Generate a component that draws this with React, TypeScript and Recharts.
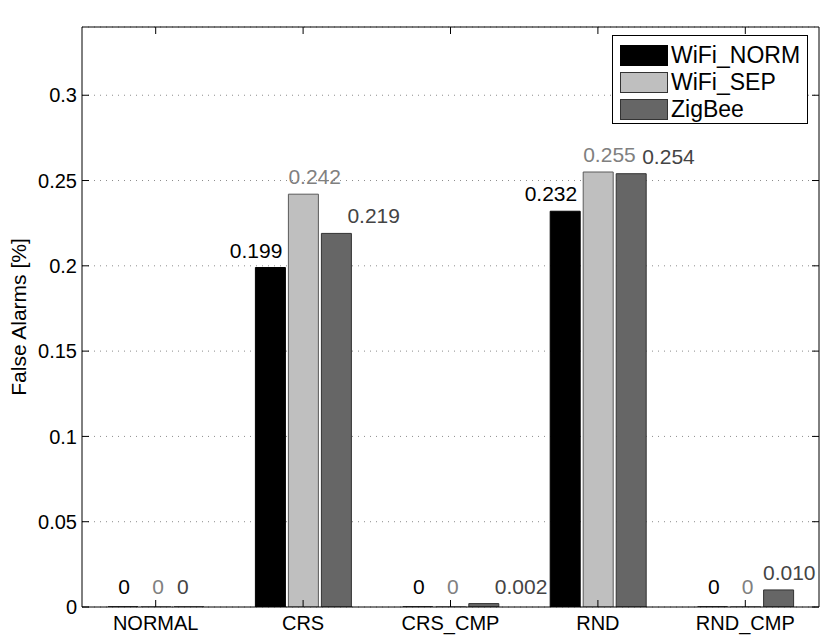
import React from 'react';
import { BarChart, Bar, XAxis, YAxis, CartesianGrid, Legend, LabelList } from 'recharts';

const categories = ['NORMAL', 'CRS', 'CRS_CMP', 'RND', 'RND_CMP'];
const wifiNorm = [0, 0.199, 0, 0.232, 0];
const wifiSep = [0, 0.242, 0, 0.255, 0];
const zigBee = [0, 0.219, 0.002, 0.254, 0.01];
const yTicks = [0, 0.05, 0.1, 0.15, 0.2, 0.25, 0.3];

const data = categories.map((name, i) => ({
  name,
  wifiNorm: wifiNorm[i],
  wifiSep: wifiSep[i],
  zigBee: zigBee[i],
}));

const series = [
  { key: 'wifiNorm', name: 'WiFi_NORM', fill: '#000000', stroke: '#000000' },
  { key: 'wifiSep', name: 'WiFi_SEP', fill: '#bfbfbf', stroke: '#5a5a5a' },
  { key: 'zigBee', name: 'ZigBee', fill: '#666666', stroke: '#333333' },
];

const FONT = '"Liberation Sans", Arial, Helvetica, sans-serif';
const PLOT_RIGHT = 818;

const fmt = (v: number) => (v === 0 ? '0' : v.toFixed(3));

// zero bars still need an entry so their "0" label gets drawn
const zeroKeep = (value: any) => (Number(value) === 0 ? 0.01 : 0);

type Place = { x: number; anchor: 'start' | 'middle' | 'end' };

// value labels sit a little above each bar, shifted the way the original was
const makeLabel = (color: string, place: (x: number, w: number, zero: boolean) => Place) =>
  (props: any) => {
    const { x, y, width, value } = props;
    if (x == null || y == null) return null;
    const v = Number(value);
    const zero = v === 0;
    const p = place(Number(x), Number(width), zero);
    return (
      <text
        x={p.x}
        y={Number(y) - (zero ? 13 : 10)}
        textAnchor={p.anchor}
        fill={color}
        fontSize={21}
        fontFamily={FONT}
      >
        {fmt(v)}
      </text>
    );
  };

const labelNorm = makeLabel('#000000', (x, w, zero) => ({ x: x + w - (zero ? 8 : 3), anchor: 'end' }));
const labelSep = makeLabel('#808080', (x, w, zero) =>
  zero ? { x: x + w / 2 + 2, anchor: 'middle' } : { x: x, anchor: 'start' }
);
const labelZig = makeLabel('#444444', (x, w, zero) =>
  zero ? { x: x + 3, anchor: 'start' } : { x: Math.min(x + w - 4, PLOT_RIGHT - 55), anchor: 'start' }
);

const LegendBox = () => (
  <div
    style={{
      border: '1px solid #000',
      background: '#fff',
      width: 196,
      height: 89,
      boxSizing: 'border-box',
      paddingTop: 6,
      paddingLeft: 7,
      fontFamily: FONT,
      fontSize: 23,
    }}
  >
    {series.map((s) => (
      <div key={s.key} style={{ display: 'flex', alignItems: 'center', height: 27 }}>
        <div
          style={{
            width: 48,
            height: 21,
            background: s.fill,
            border: `1px solid ${s.key === 'wifiNorm' ? '#000' : '#333'}`,
            boxSizing: 'border-box',
            marginRight: 3,
            flexShrink: 0,
          }}
        />
        <span style={{ color: '#000', lineHeight: '21px', whiteSpace: 'nowrap' }}>{s.name}</span>
      </div>
    ))}
  </div>
);

const noTick = () => <g />;

const YLabel = (props: any) => {
  const vb = props.viewBox || {};
  const cx = 18;
  const cy = Number(vb.y) + Number(vb.height) / 2;
  return (
    <text
      x={cx}
      y={cy}
      transform={`rotate(-90, ${cx}, ${cy})`}
      textAnchor="middle"
      dominantBaseline="central"
      fontSize={21}
      fontFamily={FONT}
      fill="#000"
    >
      False Alarms [%]
    </text>
  );
};

const App = () => {
  return (
    <div style={{ position: 'absolute', left: 0, top: 0, fontFamily: FONT }}>
      <BarChart
        width={830}
        height={636}
        data={data}
        margin={{ top: 26, right: 10, bottom: 0, left: 0 }}
        barSize={30}
        barGap={3}
      >
        <CartesianGrid vertical={false} stroke="#8c8c8c" strokeDasharray="1 5" />
        <XAxis
          dataKey="name"
          height={29}
          axisLine={{ stroke: '#000' }}
          tickLine={{ stroke: '#000' }}
          tickSize={-7}
          tickMargin={16}
          tick={{ fill: '#000', fontSize: 20, fontFamily: FONT }}
          interval={0}
        />
        <XAxis
          xAxisId="top"
          dataKey="name"
          orientation="top"
          height={1}
          axisLine={{ stroke: '#000' }}
          tickLine={{ stroke: '#000' }}
          tickSize={-7}
          tick={noTick}
          interval={0}
        />
        <YAxis
          width={82}
          domain={[0, 0.34]}
          ticks={yTicks}
          allowDataOverflow
          axisLine={{ stroke: '#000' }}
          tickLine={{ stroke: '#000' }}
          tickSize={-7}
          tickMargin={12}
          tick={{ fill: '#000', fontSize: 20, fontFamily: FONT }}
          tickFormatter={(v: number) => String(v)}
          label={<YLabel />}
        />
        <YAxis
          yAxisId="right"
          orientation="right"
          width={1}
          domain={[0, 0.34]}
          ticks={yTicks}
          allowDataOverflow
          axisLine={{ stroke: '#000' }}
          tickLine={{ stroke: '#000' }}
          tickSize={-7}
          tick={noTick}
        />
        <Legend
          layout="vertical"
          align="center"
          verticalAlign="middle"
          wrapperStyle={{ top: 35, left: 612, width: 196 }}
          content={() => <LegendBox />}
        />
        <Bar dataKey="wifiNorm" name="WiFi_NORM" fill="#000000" stroke="#000000" minPointSize={zeroKeep} isAnimationActive={false}>
          <LabelList dataKey="wifiNorm" content={labelNorm} />
        </Bar>
        <Bar dataKey="wifiSep" name="WiFi_SEP" fill="#bfbfbf" stroke="#5a5a5a" minPointSize={zeroKeep} isAnimationActive={false}>
          <LabelList dataKey="wifiSep" content={labelSep} />
        </Bar>
        <Bar dataKey="zigBee" name="ZigBee" fill="#666666" stroke="#333333" minPointSize={zeroKeep} isAnimationActive={false}>
          <LabelList dataKey="zigBee" content={labelZig} />
        </Bar>
      </BarChart>
    </div>
  );
};

export default App;
